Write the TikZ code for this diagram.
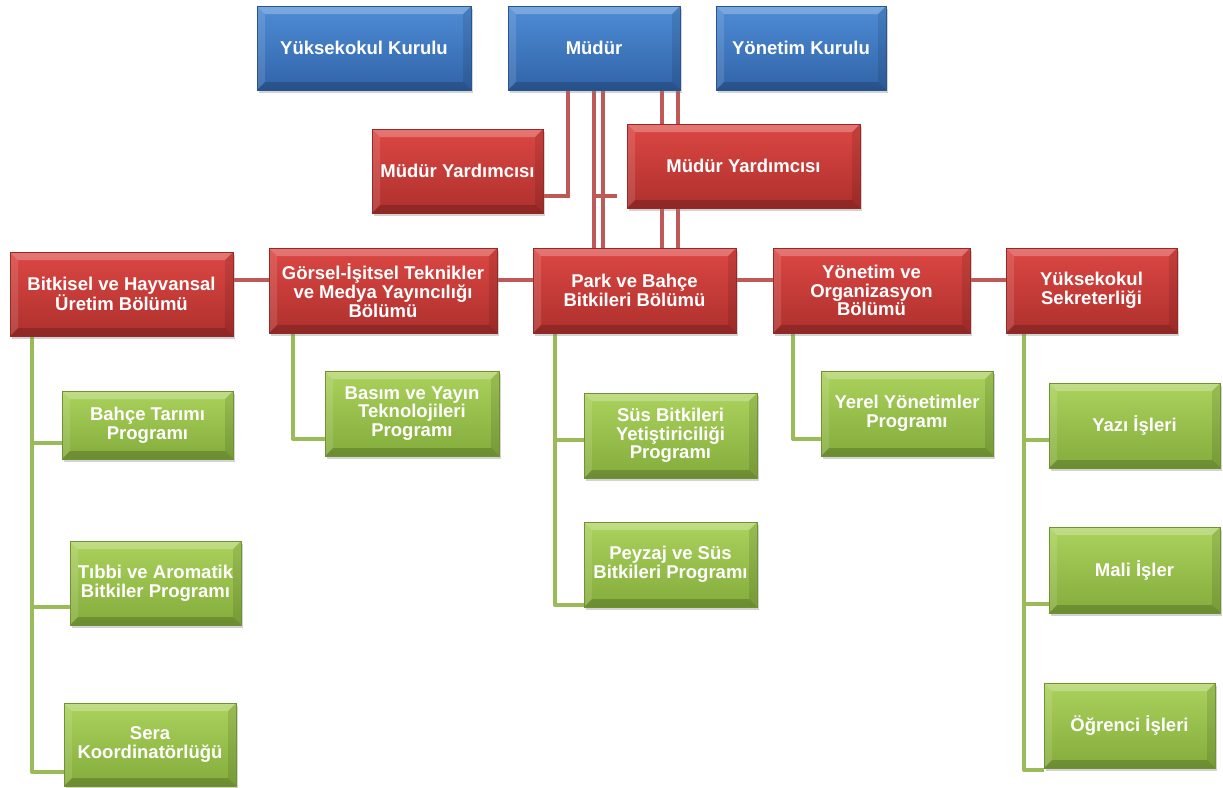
\documentclass[tikz,border=0pt]{standalone}
\usepackage{fontspec}
\setmainfont{Liberation Sans}
\usetikzlibrary{shadows}
\usetikzlibrary{backgrounds}
\usetikzlibrary{calc}
\definecolor{board-top}{HTML}{4E8DD6}
\definecolor{board-bottom}{HTML}{3163A8}
\definecolor{office-top}{HTML}{DC4743}
\definecolor{office-bottom}{HTML}{AE302D}
\definecolor{prog-top}{HTML}{ABD25C}
\definecolor{prog-bottom}{HTML}{84AC3C}
\colorlet{office-line}{office-bottom!80!white}
\definecolor{prog-line}{HTML}{9BBB59}
\tikzset{
  bevel/.style={path picture={
    \coordinate (bnw) at (path picture bounding box.north west);
    \coordinate (bse) at (path picture bounding box.south east);
    \coordinate (bne) at (path picture bounding box.north east);
    \coordinate (bsw) at (path picture bounding box.south west);
    % light top and left edges, dark bottom and right edges
    \fill[white,opacity=0.25] (bnw) -- (bne) -- ([xshift=-8pt,yshift=-8pt]bne) -- ([xshift=8pt,yshift=-8pt]bnw) -- cycle;
    \fill[white,opacity=0.12] (bnw) -- ([xshift=8pt,yshift=-8pt]bnw) -- ([xshift=8pt,yshift=8pt]bsw) -- (bsw) -- cycle;
    \fill[black,opacity=0.18] (bsw) -- (bse) -- ([xshift=-8pt,yshift=8pt]bse) -- ([xshift=8pt,yshift=8pt]bsw) -- cycle;
    \fill[black,opacity=0.10] (bne) -- (bse) -- ([xshift=-8pt,yshift=8pt]bse) -- ([xshift=-8pt,yshift=-8pt]bne) -- cycle;
  }},
  unit/.style={rectangle, inner sep=2pt, outer sep=0pt, align=center, text=white,
    font=\bfseries\fontsize{18.5}{18.7}\selectfont, line width=0.8pt, bevel,
    drop shadow={shadow xshift=2pt, shadow yshift=-3pt, opacity=0.35}},
  board/.style={unit, top color=board-top, bottom color=board-bottom, draw=board-bottom!85!black},
  office/.style={unit, top color=office-top, bottom color=office-bottom, draw=office-bottom!85!black},
  prog/.style={unit, top color=prog-top, bottom color=prog-bottom, draw=prog-bottom!85!black},
  redline/.style={draw=office-line, line width=4.5pt},
  greenline/.style={draw=prog-line, line width=4pt, line join=round},
}
% box from its top left corner, width and height
\newcommand{\tikzorgunit}[6][]{%
\node[#1,anchor=north west,minimum width=#4pt,minimum height=#5pt] (#2) at (#3) {#6};
}
\begin{document}
\begin{tikzpicture}[x=1pt, y=-1pt]
\useasboundingbox (0,0) rectangle (1223,787);
% boards and director
\tikzorgunit[board]{kurul}{257,6}{214}{84}{Yüksekokul Kurulu}
\tikzorgunit[board]{mudur}{508,6}{172}{84}{Müdür}
\tikzorgunit[board]{yonkurul}{716,6}{170}{84}{Yönetim Kurulu}
% deputies
\tikzorgunit[office]{yard1}{372,129}{171}{84}{Müdür Yardımcısı}
\tikzorgunit[office]{yard2}{627,124}{233}{84}{Müdür Yardımcısı}
% departments
\tikzorgunit[office]{bitkisel}{10,252}{223}{84}{Bitkisel ve Hayvansal\\Üretim Bölümü}
\tikzorgunit[office]{gorsel}{269,248}{228}{85}{Görsel-İşitsel Teknikler\\ve Medya Yayıncılığı\\Bölümü}
\tikzorgunit[office]{park}{533,248}{203}{85}{Park ve Bahçe\\Bitkileri Bölümü}
\tikzorgunit[office]{yonorg}{773,248}{197}{85}{Yönetim ve\\Organizasyon\\Bölümü}
\tikzorgunit[office]{sekr}{1006,248}{171}{85}{Yüksekokul\\Sekreterliği}
% programmes
\tikzorgunit[prog]{bahce}{62,391}{171}{68}{Bahçe Tarımı\\Programı}
\tikzorgunit[prog]{tibbi}{70,541}{171}{84}{Tıbbi ve Aromatik\\Bitkiler Programı}
\tikzorgunit[prog]{sera}{64,703}{172}{83}{Sera\\Koordinatörlüğü}
\tikzorgunit[prog]{basim}{325,371}{174}{85}{Basım ve Yayın\\Teknolojileri\\Programı}
\tikzorgunit[prog]{sus}{584,393}{173}{85}{Süs Bitkileri\\Yetiştiriciliği\\Programı}
\tikzorgunit[prog]{peyzaj}{584,522}{173}{85}{Peyzaj ve Süs\\Bitkileri Programı}
\tikzorgunit[prog]{yerel}{821,371}{172}{85}{Yerel Yönetimler\\Programı}
\tikzorgunit[prog]{yazi}{1049,383}{171}{85}{Yazı İşleri}
\tikzorgunit[prog]{mali}{1049,527}{171}{86}{Mali İşler}
\tikzorgunit[prog]{ogrenci}{1044,683}{171}{85}{Öğrenci İşleri}
\begin{scope}[on background layer]
% director to deputies and departments
\coordinate (d1) at (568,196);
\coordinate (d2) at (617,196);
\draw[redline] (d1 |- mudur.south) -- (d1) -- (yard1.east |- d1);
\draw[redline] (594,196) -- (d2);
\foreach \x in {594,603,662,678} {
  \draw[redline] (\x,0 |- mudur.south) -- (\x,0 |- park.north);
}
\coordinate (h1) at (0,280);
\draw[redline] (bitkisel.east |- h1) -- (sekr.west |- h1);
% Bitkisel ve Hayvansal
\coordinate (t1) at (32,772);
\coordinate (t1a) at (32,443);
\coordinate (t1b) at (32,607);
\draw[greenline] (t1 |- bitkisel.south) -- (t1) -- (sera.west |- t1);
\draw[greenline] (t1a) -- (bahce.west |- t1a);
\draw[greenline] (t1b) -- (tibbi.west |- t1b);
% Gorsel-Isitsel
\coordinate (t2) at (293,439);
\draw[greenline] (t2 |- gorsel.south) -- (t2) -- (basim.west |- t2);
% Park ve Bahce
\coordinate (t3) at (555,605);
\coordinate (t3a) at (555,440);
\draw[greenline] (t3 |- park.south) -- (t3) -- (peyzaj.west |- t3);
\draw[greenline] (t3a) -- (sus.west |- t3a);
% Yonetim ve Organizasyon
\coordinate (t4) at (793,439);
\draw[greenline] (t4 |- yonorg.south) -- (t4) -- (yerel.west |- t4);
% Sekreterlik
\coordinate (t5) at (1024,770);
\coordinate (t5a) at (1024,440);
\coordinate (t5b) at (1024,604);
\draw[greenline] (t5 |- sekr.south) -- (t5) -- (ogrenci.west |- t5);
\draw[greenline] (t5a) -- (yazi.west |- t5a);
\draw[greenline] (t5b) -- (mali.west |- t5b);
\end{scope}
\end{tikzpicture}
\end{document}
